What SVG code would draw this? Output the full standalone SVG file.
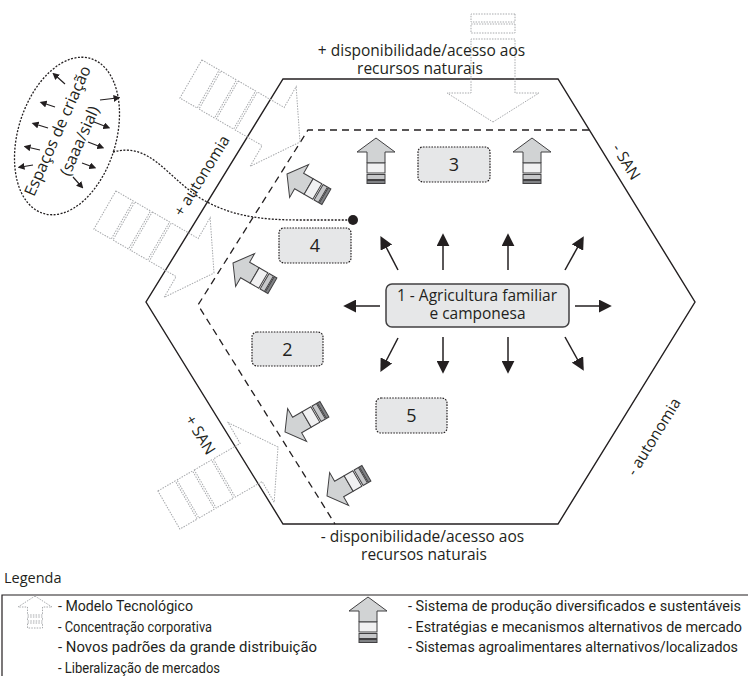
<svg xmlns="http://www.w3.org/2000/svg" xmlns:xlink="http://www.w3.org/1999/xlink" width="748" height="676" viewBox="0 0 748 676">
  <style>
    text { font-family: "Open Sans", "Liberation Sans", sans-serif; fill: #231f20; }
    .lbl { font-size: 15.5px; }
    .num { font-size: 18px; text-anchor: middle; }
    .leg { font-family: Roboto, "Liberation Sans", sans-serif; font-size: 14.5px; }
    .hex { fill: none; stroke: #231f20; stroke-width: 1.4; }
    .zone { fill: none; stroke: #231f20; stroke-width: 1.3; stroke-dasharray: 7 5; }
    .box { fill: #e6e7e8; stroke: #231f20; stroke-width: 1.2; stroke-dasharray: 1.6 1.2; }
    .core { fill: #e6e7e8; stroke: #414042; stroke-width: 1.5; }
    .tec { fill: none; stroke: #a7a9ac; stroke-width: 1; stroke-dasharray: 1.5 1.2; }
    .sys path, .sys rect { stroke: #414042; stroke-width: 1; }
    .ray { stroke: #231f20; stroke-width: 1.5; fill: none; marker-end: url(#ah); }
    .mini { stroke: #231f20; stroke-width: 1.2; fill: none; marker-end: url(#ahs); }
    .dots { fill: none; stroke: #231f20; stroke-width: 1.3; stroke-dasharray: 2 1.5; }
  </style>
  <defs>
    <marker id="ah" viewBox="0 0 10 10" refX="4" refY="5" markerWidth="13" markerHeight="13" markerUnits="userSpaceOnUse" orient="auto">
      <path d="M0,0 L10,5 L0,10 Z" fill="#231f20"/>
    </marker>
    <marker id="ahs" viewBox="0 0 10 10" refX="5" refY="5" markerWidth="7" markerHeight="7" markerUnits="userSpaceOnUse" orient="auto">
      <path d="M0,0 L10,5 L0,10 Z" fill="#231f20"/>
    </marker>
    <!-- technological model arrow, pointing +x, tip at origin (long tail) -->
    <g id="tec" class="tec">
      <path d="M0,0 L-31,-46 L-31,-22 L-62,-22 L-62,22 L-31,22 L-31,46 Z"/>
      <rect x="-84" y="-22" width="20" height="44"/>
      <rect x="-104" y="-22" width="18" height="44"/>
      <rect x="-126" y="-22" width="20" height="44"/>
    </g>
    <!-- same arrow, shorter tail -->
    <g id="tecShort" class="tec">
      <path d="M0,0 L-29,-46 L-29,-22 L-83,-22 L-83,22 L-29,22 L-29,46 Z"/>
      <rect x="-98" y="-22" width="9" height="44"/>
      <rect x="-108" y="-22" width="8" height="44"/>
    </g>
    <!-- diversified production arrow, pointing up, tip at origin -->
    <g id="sys" class="sys">
      <path d="M0,0 L19,14 L9,14 L9,25 L-9,25 L-9,14 L-19,14 Z" fill="#d1d3d4"/>
      <rect x="-9" y="25" width="18" height="10" fill="#f1f1f2"/>
      <rect x="-9" y="36.5" width="18" height="5" fill="#c7c8ca"/>
      <rect x="-9" y="42.5" width="18" height="3" fill="#808285"/>
    </g>
  </defs>

  <rect width="748" height="676" fill="#ffffff"/>

  <!-- outer territory and inner zone -->
  <g id="territory">
    <polygon class="hex" points="283,79 558,79 695,302 558,524 283,524 146,302"/>
    <polyline class="zone" points="589,130 308,130 198,305 335,524"/>
  </g>

  <!-- external pressure arrows (technological model) -->
  <g id="pressures">
    <use xlink:href="#tecShort" transform="translate(493,122) rotate(90)"/>
    <use xlink:href="#tec" transform="translate(300,142) rotate(30)"/>
    <use xlink:href="#tec" transform="translate(214,273) rotate(30)"/>
    <use xlink:href="#tec" transform="translate(278,447) rotate(-30)"/>
  </g>

  <!-- edge labels -->
  <g id="edge-labels">
    <text class="lbl" x="421.5" y="56" text-anchor="middle">+ disponibilidade/acesso aos</text>
    <text class="lbl" x="420" y="74" text-anchor="middle">recursos naturais</text>
    <text class="lbl" x="422.5" y="542" text-anchor="middle">- disponibilidade/acesso aos</text>
    <text class="lbl" x="424" y="560" text-anchor="middle">recursos naturais</text>
    <text class="lbl" text-anchor="middle" transform="translate(202,176) rotate(-58.4)" y="5">+ autonomia</text>
    <text class="lbl" text-anchor="middle" transform="translate(626,162) rotate(58.4)" y="5">- SAN</text>
    <text class="lbl" text-anchor="middle" transform="translate(200,435) rotate(58.4)" y="5">+ SAN</text>
    <text class="lbl" text-anchor="middle" transform="translate(654,437) rotate(-58.4)" y="5">- autonomia</text>
  </g>

  <!-- diversified production arrows -->
  <g id="production">
    <use xlink:href="#sys" transform="translate(376,138)"/>
    <use xlink:href="#sys" transform="translate(532,138)"/>
    <use xlink:href="#sys" transform="translate(287,174) rotate(-60)"/>
    <use xlink:href="#sys" transform="translate(233,263) rotate(-60)"/>
    <use xlink:href="#sys" transform="translate(285,432) rotate(-120)"/>
    <use xlink:href="#sys" transform="translate(327,496) rotate(-120)"/>
  </g>

  <!-- creation spaces -->
  <g id="node-spaces">
    <ellipse class="dots" cx="67" cy="136" rx="49" ry="81" transform="rotate(17 67 136)"/>
    <text class="lbl" text-anchor="middle" transform="translate(58,131) rotate(-66)" y="5" style="font-size:16px">Espaços de criação</text>
    <text class="lbl" text-anchor="middle" transform="translate(80,141) rotate(-66)" y="5" style="font-size:16px">(saaa/sial)</text>
    <line class="mini" x1="65" y1="84" x2="55" y2="75"/>
    <line class="mini" x1="55" y1="107" x2="43" y2="103"/>
    <line class="mini" x1="48" y1="128" x2="35" y2="124"/>
    <line class="mini" x1="40" y1="150" x2="27" y2="147"/>
    <line class="mini" x1="33" y1="165" x2="21" y2="167"/>
    <line class="mini" x1="100" y1="100" x2="117" y2="98"/>
    <line class="mini" x1="94" y1="122" x2="107" y2="127"/>
    <line class="mini" x1="88" y1="142" x2="101" y2="147"/>
    <line class="mini" x1="82" y1="163" x2="93" y2="167"/>
    <line class="mini" x1="73" y1="177" x2="81" y2="186"/>
  </g>

  <!-- numbered zones -->
  <g id="node-3"><rect class="box" x="418" y="147" width="72" height="35" rx="5"/><text class="num" x="454" y="171">3</text></g>
  <g id="node-4"><rect class="box" x="279" y="228" width="72" height="35" rx="5"/><text class="num" x="315" y="252">4</text></g>
  <g id="node-2"><rect class="box" x="252" y="332" width="71" height="34" rx="5"/><text class="num" x="287.5" y="356">2</text></g>
  <g id="node-5"><rect class="box" x="376" y="398" width="71" height="35" rx="5"/><text class="num" x="411.5" y="422">5</text></g>

  <!-- family and peasant agriculture -->
  <g id="node-1">
    <rect class="core" x="386" y="284" width="183" height="43" rx="6"/>
    <text class="lbl" x="477" y="301" text-anchor="middle">1 - Agricultura familiar</text>
    <text class="lbl" x="477.5" y="318.5" text-anchor="middle">e camponesa</text>
  </g>

  <!-- connectors -->
  <g id="connectors">
    <line class="ray" x1="398" y1="270" x2="384" y2="243"/>
    <line class="ray" x1="443" y1="270" x2="443" y2="241"/>
    <line class="ray" x1="508" y1="270" x2="508" y2="241"/>
    <line class="ray" x1="565" y1="270" x2="580" y2="243"/>
    <line class="ray" x1="380" y1="306" x2="351" y2="306"/>
    <line class="ray" x1="575" y1="306" x2="604" y2="306"/>
    <line class="ray" x1="398" y1="338" x2="384" y2="365"/>
    <line class="ray" x1="443" y1="337" x2="443" y2="366"/>
    <line class="ray" x1="508" y1="337" x2="508" y2="366"/>
    <line class="ray" x1="565" y1="337" x2="580" y2="364"/>
    <path class="dots" d="M113,152 C150,142 165,175 200,198 C230,216 260,220 300,220 L348,220"/>
    <circle cx="353" cy="220" r="5" fill="#231f20"/>
  </g>

  <!-- legend -->
  <g id="legend">
    <text x="4" y="583" style="font-size:14.5px">Legenda</text>
    <polyline points="2,676 2,595 748,595" fill="none" stroke="#231f20" stroke-width="1.2"/>
    <g class="tec">
      <path d="M35,596 L52,607 L42.5,607 L42.5,615 L27.5,615 L27.5,607 L18,607 Z"/>
      <rect x="27.5" y="617" width="15" height="4"/>
      <rect x="27.5" y="623" width="15" height="5"/>
    </g>
    <use xlink:href="#sys" transform="translate(368,597)"/>
    <text class="leg" x="58" y="611" textLength="135" lengthAdjust="spacingAndGlyphs">- Modelo Tecnológico</text>
    <text class="leg" x="58" y="632" textLength="154" lengthAdjust="spacingAndGlyphs">- Concentração corporativa</text>
    <text class="leg" x="58" y="652" textLength="259" lengthAdjust="spacingAndGlyphs">- Novos padrões da grande distribuição</text>
    <text class="leg" x="58" y="673" textLength="162" lengthAdjust="spacingAndGlyphs">- Liberalização de mercados</text>
    <text class="leg" x="408" y="611" textLength="333" lengthAdjust="spacingAndGlyphs">- Sistema de produção diversificados e sustentáveis</text>
    <text class="leg" x="408" y="632" textLength="334" lengthAdjust="spacingAndGlyphs">- Estratégias e mecanismos alternativos de mercado</text>
    <text class="leg" x="408" y="652" textLength="330" lengthAdjust="spacingAndGlyphs">- Sistemas agroalimentares alternativos/localizados</text>
  </g>
</svg>
